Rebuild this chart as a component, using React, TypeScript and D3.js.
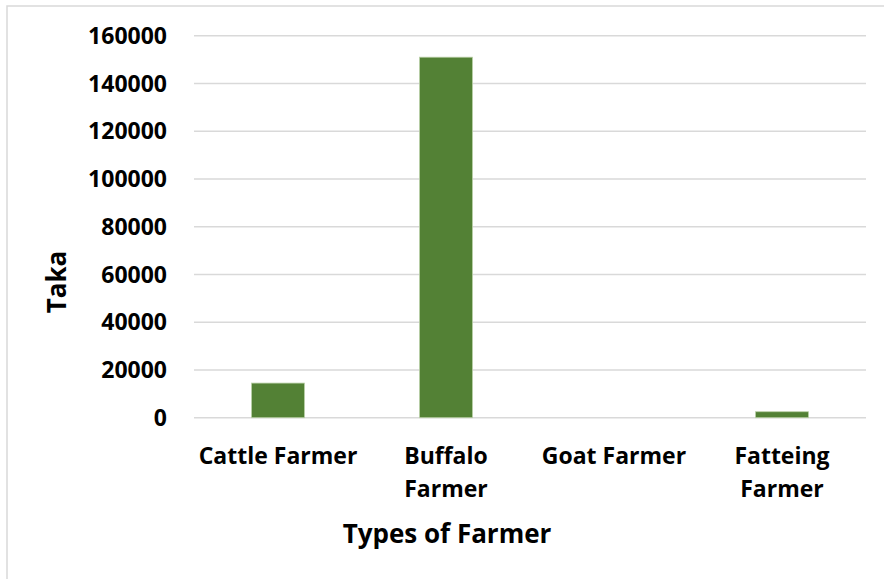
import React from "react";
import * as d3 from "d3";

// Farmer categories (two-line labels) and their values in Taka
const categories = ["Cattle Farmer", "Buffalo Farmer", "Goat Farmer", "Fatteing Farmer"];
const categoryLines = [["Cattle Farmer"], ["Buffalo", "Farmer"], ["Goat Farmer"], ["Fatteing", "Farmer"]];
const values = [14500, 151000, 0, 2500];
const yTicks = [0, 20000, 40000, 60000, 80000, 100000, 120000, 140000, 160000];

const W = 884;
const H = 579;
const plot = { left: 194, right: 866, top: 35.7, bottom: 417.7 };
const FONT = "'Open Sans', 'Liberation Sans', sans-serif";

export default function App() {
  const x = d3
    .scaleBand<string>()
    .domain(categories)
    .range([plot.left, plot.right])
    .paddingInner(0.685)
    .paddingOuter(0.3425);
  const y = d3.scaleLinear().domain([0, 160000]).range([plot.bottom, plot.top]);

  return (
    <svg
      width={W}
      height={H}
      style={{ position: "absolute", left: 0, top: 0, background: "#fff" }}
    >
      <rect x={7} y={6} width={W + 10} height={H + 10} fill="#fff" stroke="#d9d9d9" strokeWidth={1.5} />
      {/* horizontal gridlines */}
      {yTicks.map((t) => (
        <line
          key={t}
          x1={plot.left}
          x2={plot.right}
          y1={y(t)}
          y2={y(t)}
          stroke="#d9d9d9"
          strokeWidth={1.5}
        />
      ))}
      {/* bars */}
      {categories.map((c, i) => (
        <rect
          key={c}
          x={x(c)}
          y={y(values[i])}
          width={x.bandwidth()}
          height={plot.bottom - y(values[i])}
          fill="#538135"
          stroke="#b9cfa6"
          strokeWidth={values[i] > 0 ? 0.8 : 0}
        />
      ))}
      {/* y tick labels */}
      {yTicks.map((t) => (
        <text
          key={t}
          x={167}
          y={y(t)}
          dy="0.36em"
          textAnchor="end"
          fontFamily={FONT}
          fontWeight={700}
          fontSize={23}
          fill="#000"
        >
          {t}
        </text>
      ))}
      {/* category labels */}
      {categories.map((c, i) => (
        <text
          key={c}
          x={(x(c) as number) + x.bandwidth() / 2}
          y={463.5}
          textAnchor="middle"
          fontFamily={FONT}
          fontWeight={700}
          fontSize={23}
          fill="#000"
        >
          {categoryLines[i].map((ln, j) => (
            <tspan key={j} x={(x(c) as number) + x.bandwidth() / 2} dy={j === 0 ? 0 : 33.4}>
              {ln}
            </tspan>
          ))}
        </text>
      ))}
      {/* axis titles */}
      <text
        x={447}
        y={543}
        textAnchor="middle"
        fontFamily={FONT}
        fontWeight={700}
        fontSize={26}
        fill="#000"
      >
        Types of Farmer
      </text>
      <text
        transform="translate(66,282) rotate(-90)"
        textAnchor="middle"
        fontFamily={FONT}
        fontWeight={700}
        fontSize={26}
        fill="#000"
      >
        Taka
      </text>
    </svg>
  );
}
